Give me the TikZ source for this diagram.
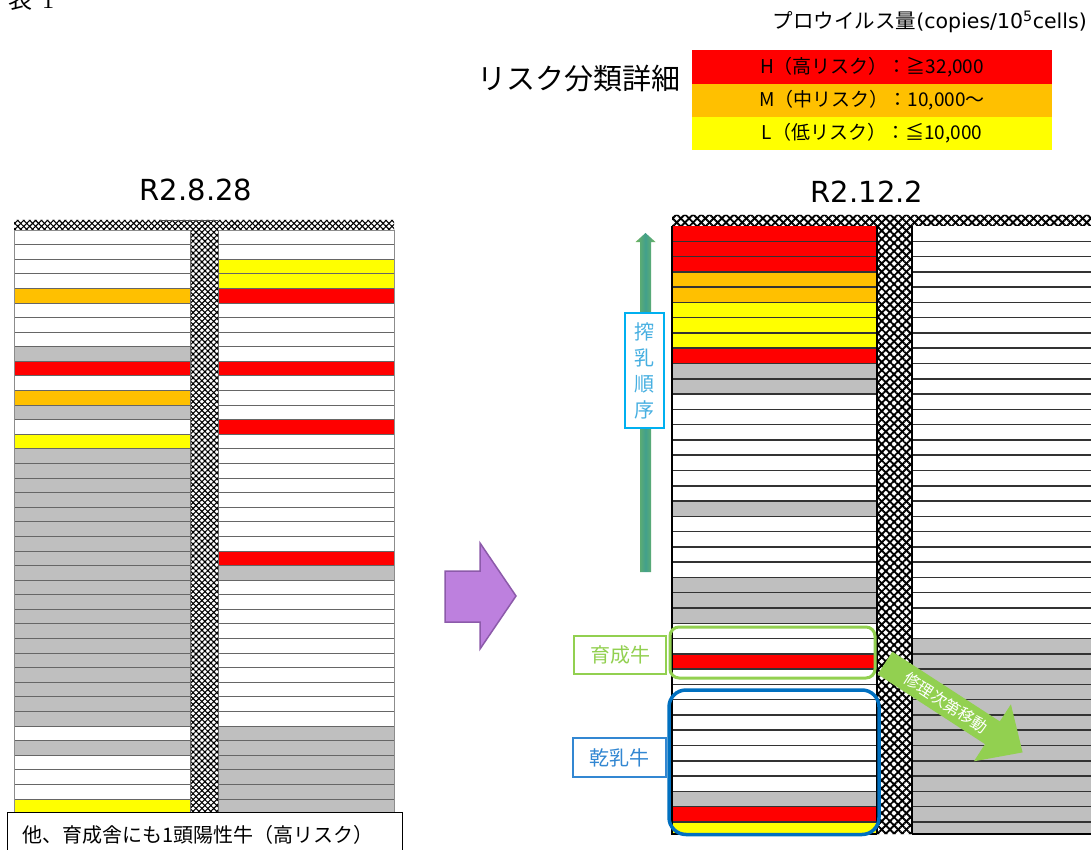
\documentclass[tikz,border=0pt]{standalone}
\usepackage{fontspec}
\setmainfont{Noto Sans CJK JP}
\newfontfamily\dejavu{DejaVu Sans}
\newfontfamily\lserif{Liberation Serif}
\usetikzlibrary{patterns.meta}
\definecolor{cR}{RGB}{255,0,0}
\definecolor{cO}{RGB}{255,192,0}
\definecolor{cY}{RGB}{255,255,0}
\definecolor{cG}{RGB}{191,191,191}
\definecolor{cW}{RGB}{255,255,255}
\definecolor{lgreen}{RGB}{146,208,80}
\definecolor{dblue}{RGB}{0,112,192}
\definecolor{lblue}{RGB}{50,135,210}
\definecolor{cyanb}{RGB}{0,176,240}
\definecolor{cyant}{RGB}{70,175,225}
\definecolor{purf}{RGB}{189,128,222}
\definecolor{purd}{RGB}{140,90,170}
\definecolor{arrg}{RGB}{112,180,95}
\definecolor{arrt}{RGB}{66,160,140}
\newcommand{\fsz}[2]{\fontsize{#1}{#2}\selectfont}
\begin{document}
\begin{tikzpicture}[x=1pt,y=-1pt,
  lrow/.style={draw=black!60, line width=0.9pt},
  rrow/.style={draw=black!80, line width=1.5pt},
  lgbox/.style={minimum width=360pt, inner sep=0pt, font=\fsz{19}{22}},
  labelbox/.style={line width=1.5pt, fill=white, inner sep=0pt, font=\fsz{20}{24}}]
\useasboundingbox (0,0) rectangle (1091,850);
\clip (0,0) rectangle (1091,850);
\fill[white] (0,0) rectangle (1091,850);

% ---------------- left chart R2.8.28 ----------------
\foreach \c [count=\i from 0] in {cW,cW,cW,cW,cO,cW,cW,cW,cG,cR,cW,cO,cG,cW,cY,
  cG,cG,cG,cG,cG,cG,cG,cG,cG,cG,cG,cG,cG,cG,cG,cG,cG,cG,cG,
  cW,cG,cW,cW,cW,cY}{
  \fill[\c] (14,{230+\i*14.59}) rectangle (190,{230+(\i+1)*14.59});
}
\foreach \c [count=\i from 0] in {cW,cW,cY,cY,cR,cW,cW,cW,cW,cR,cW,cW,cW,cR,
  cW,cW,cW,cW,cW,cW,cW,cW,cR,cG,cW,cW,cW,cW,cW,cW,cW,cW,cW,cW,
  cG,cG,cG,cG,cG,cG}{
  \fill[\c] (218,{230+\i*14.59}) rectangle (394,{230+(\i+1)*14.59});
}
\foreach \i in {1,...,39}{
  \draw[lrow] (14,{230+\i*14.59}) -- (190,{230+\i*14.59});
  \draw[lrow] (218,{230+\i*14.59}) -- (394,{230+\i*14.59});
}
\draw[black!45, line width=0.9pt] (14,230) rectangle (190,814) (218,230) rectangle (394,814);
\fill[white] (14,220) rectangle (394,230) (190,220) rectangle (218,814);
\foreach \a in {45,-45}
  \fill[pattern={Lines[angle=\a,distance=4.2pt,line width=1.1pt]}, pattern color=black]
    (14,220) rectangle (394,230) (190,220) rectangle (218,814);
\draw[black!70, line width=0.9pt] (160,220) -- (218,220);
\draw[black!60, line width=0.8pt] (190,230) -- (190,814) (218,230) -- (218,814);
\node[anchor=base, font=\dejavu\fsz{29}{34}] (t1) at (196,201) {R2.8.28};

% ---------------- right chart R2.12.2 ----------------
\foreach \c [count=\i from 0] in {cR,cR,cR,cO,cO,cY,cY,cY,cR,cG,cG,
  cW,cW,cW,cW,cW,cW,cW,cG,cW,cW,cW,cW,cG,cG,cG,cW,cW,cR,
  cW,cW,cW,cW,cW,cW,cW,cW,cG,cR,cY}{
  \pgfmathsetmacro\yb{min(226+(\i+1)*15.28,834)}
  \fill[\c] (672,{226+\i*15.28}) rectangle (877,\yb);
}
\foreach \i in {0,...,39}{
  \pgfmathsetmacro\yb{min(226+(\i+1)*15.28,834)}
  \pgfmathsetmacro\cc{\i<27 ? "cW" : "cG"}
  \fill[\cc] (912,{226+\i*15.28}) rectangle (1100,\yb);
}
\foreach \i in {1,...,39}{
  \pgfmathsetmacro\yl{226+\i*15.28}
  \draw[rrow] (672,\yl) -- (877,\yl);
  \draw[rrow] (912,\yl) -- (1100,\yl);
}
\draw[black, line width=1.3pt] (672,226) -- (672,834) -- (877,834) (912,834) -- (1100,834);
\fill[white] (672,215) rectangle (1100,226) (877,215) rectangle (912,834);
\foreach \a in {45,-45}
  \fill[pattern={Lines[angle=\a,distance=5.8pt,line width=1.9pt]}, pattern color=black]
    (672,215) rectangle (1100,226) (877,215) rectangle (912,834);
\draw[black, line width=1.6pt] (877,226) -- (877,834) (912,226) -- (912,834);
\node[anchor=base, font=\dejavu\fsz{29}{34}] (t2) at (867,203) {R2.12.2};

% group outlines
\draw[lgreen, line width=3pt, rounded corners=9pt] (670,627) rectangle (875,678);
\draw[dblue, line width=3.5pt, rounded corners=17pt] (669,690) rectangle (879,834.5);

% milking order arrow
\coordinate (vtop) at (645.5,233);
\coordinate (vbot) at (645.5,572);
\shade[left color=arrg, right color=arrg, middle color=arrt]
  (640,572) -- (640,242) -- (635.5,242) -- (vtop) -- (655.5,242) -- (651,242) -- (651,572) -- cycle;
\node[draw=cyanb, text=cyant, line width=1.5pt, fill=white, minimum width=39pt, minimum height=115pt,
  inner sep=0pt, align=center, font=\fsz{20}{26}] (order) at (644.5,370.5) {搾\\乳\\順\\序};

% labels
\node[labelbox, draw=lgreen, text=lgreen, minimum width=92pt, minimum height=38pt] (heifer) at (620,655) {育成牛};
\node[labelbox, draw=lblue, text=lblue, minimum width=93pt, minimum height=39pt] (dry) at (619.5,757.5) {乾乳牛};

% move arrow
\fill[lgreen] (892.4,651.7) -- (999.8,721.4) -- (1010.9,704.3) -- (1022.6,752.4) -- (973.9,761.3) -- (985,744.1) -- (877.6,674.3) -- cycle;
\node[text=white, rotate=-33, font=\fsz{16}{18}] (move) at (946,703) {修理次第移動};

% purple arrow
\draw[purd, fill=purf, line width=1.5pt, line join=miter]
  (445,571) -- (480,571) -- (480,543) -- (516,596) -- (480,649) -- (480,622) -- (445,622) -- cycle;

% legend
\node[anchor=base west, inner sep=0pt, font=\fsz{24}{28}] (hyo) at (8,9) {表\hspace{10pt}{\lserif 1}};
\node[anchor=east, inner sep=0pt, font=\fsz{20.5}{24}] (unit) at (1087,22) {プロウイルス量{\dejavu(copies/10\textsuperscript{5}cells)}};
\node[lgbox, fill=cR, minimum height=34pt] (lgH) at (872,67) {H（高リスク）：≧32,000};
\node[lgbox, fill=cO, minimum height=33pt] (lgM) at (872,100.5) {M（中リスク）：10,000～};
\node[lgbox, fill=cY, minimum height=33pt] (lgL) at (872,133.5) {L（低リスク）：≦10,000};
\node[anchor=east, inner sep=0pt, font=\fsz{29}{34}] (risk) at (681,79) {リスク分類詳細};

% note
\node[draw, line width=1.2pt, fill=white, anchor=north west, minimum height=44pt, text width=366pt,
  inner xsep=14.5pt, inner ysep=0pt, align=left, font=\fsz{20}{24}] (note) at (7,812) {他、育成舎にも1頭陽性牛（高リスク）};
\end{tikzpicture}
\end{document}
